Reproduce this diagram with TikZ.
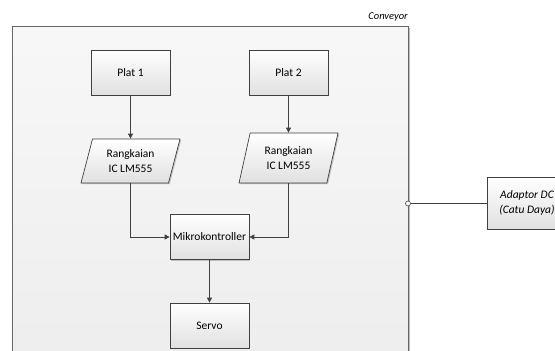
\documentclass[tikz,border=0pt]{standalone}
\usepackage{fontspec}
\setmainfont{Carlito}
\usetikzlibrary{arrows.meta,shapes.geometric,shadows}
\definecolor{linec}{HTML}{404040}
\tikzset{
  box/.style={draw=linec, line width=0.7pt, top color=white, bottom color=black!12,
    minimum width=79pt, minimum height=45pt, inner sep=2pt, align=center,
    font=\fontsize{11.5}{14.5}\selectfont,
    drop shadow={shadow xshift=1.2pt, shadow yshift=-1.2pt, opacity=0.35, fill=black!60}},
  para/.style={box, trapezium, trapezium left angle=66.6, trapezium right angle=113.4,
    trapezium stretches body, minimum width=99pt, minimum height=44pt, inner xsep=0pt},
  conn/.style={draw=linec, line width=0.75pt},
  arr/.style={conn, -{Triangle[length=5pt,width=5pt]}},
}
\begin{document}
\begin{tikzpicture}[x=1pt,y=-1pt]
\useasboundingbox (0,0) rectangle (555,351);
\clip (0,0) rectangle (555,351);
% frame
\fill[black!25] (13.5,27.5) rectangle (409.5,370);
\node[draw=linec!80, line width=0.7pt, top color=white!97!black, bottom color=black!7,
  minimum width=396pt, minimum height=344pt, anchor=north west, inner sep=0pt] (frame) at (12,26) {};
\node[anchor=south east, inner sep=0pt, font=\fontsize{10.5}{12}\selectfont\itshape] (conv) at (408,21) {Conveyor};
% boxes
\node[box] (plat1) at (130.5,72.5) {Plat 1};
\node[box] (plat2) at (288.5,72.5) {Plat 2};
\node[para] (ic1) at (130.5,161) {Rangkaian\\IC LM555};
\node[para, minimum height=50pt, trapezium left angle=67.2, trapezium right angle=112.8] (ic2) at (288.5,158) {Rangkaian\\IC LM555};
\node[box, inner xsep=1pt] (mikro) at (209.5,237) {Mikrokontroller};
\node[box] (servo) at (209.5,325.5) {Servo};
\node[box, font=\fontsize{11.5}{15.5}\selectfont\itshape, minimum height=52pt] (adapt) at (527,203) {Adaptor DC\\(Catu Daya)};
% connectors
\draw[arr] (plat1.south) -- (ic1.north);
\draw[arr] (plat2.south) -- (ic2.north);
\draw[arr] (ic1.south) |- (mikro.west);
\draw[arr] (ic2.south) |- (mikro.east);
\draw[arr] (mikro.south) -- (servo.north);
\coordinate (port) at (408,203.5);
\draw[conn] (port) ++(2.5,0) -- (adapt.west |- port);
\node[circle, draw=linec, fill=white, line width=0.6pt, minimum size=5pt, inner sep=0pt] (portc) at (port) {};
\end{tikzpicture}
\end{document}
